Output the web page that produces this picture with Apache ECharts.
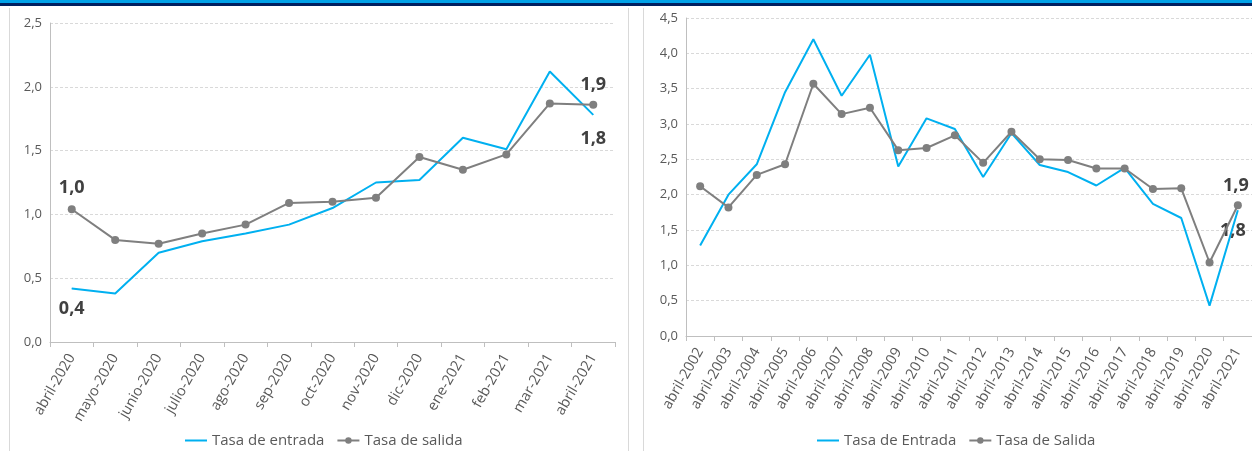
<!DOCTYPE html>
<html>
<head>
<meta charset="utf-8">
<script src="https://cdn.jsdelivr.net/npm/echarts@6/dist/echarts.min.js"></script>
<style>
  html, body { margin: 0; padding: 0; background: #fff; overflow: hidden; }
  #chart { width: 1252px; height: 451px; }
</style>
</head>
<body>
<div id="chart"></div>
<script>
// monthly panel (left)
const monthCats = ['abril-2020', 'mayo-2020', 'junio-2020', 'julio-2020', 'ago-2020', 'sep-2020', 'oct-2020',
  'nov-2020', 'dic-2020', 'ene-2021', 'feb-2021', 'mar-2021', 'abril-2021'];
const monthEntrada = [0.42, 0.38, 0.70, 0.79, 0.85, 0.92, 1.05, 1.25, 1.27, 1.60, 1.51, 2.12, 1.78];
const monthSalida = [1.04, 0.80, 0.77, 0.85, 0.92, 1.09, 1.10, 1.13, 1.45, 1.35, 1.47, 1.87, 1.86];

// yearly panel (right)
const yearCats = ['abril-2002', 'abril-2003', 'abril-2004', 'abril-2005', 'abril-2006', 'abril-2007', 'abril-2008',
  'abril-2009', 'abril-2010', 'abril-2011', 'abril-2012', 'abril-2013', 'abril-2014', 'abril-2015', 'abril-2016',
  'abril-2017', 'abril-2018', 'abril-2019', 'abril-2020', 'abril-2021'];
const yearEntrada = [1.28, 2.00, 2.43, 3.45, 4.20, 3.40, 3.98, 2.40, 3.08, 2.93, 2.25, 2.87, 2.42, 2.32, 2.13,
  2.38, 1.87, 1.67, 0.43, 1.78];
const yearSalida = [2.12, 1.82, 2.28, 2.43, 3.57, 3.14, 3.23, 2.63, 2.66, 2.84, 2.45, 2.89, 2.50, 2.49, 2.37,
  2.37, 2.08, 2.09, 1.04, 1.85];

const BLUE = '#00b0f0';
const GRAY = '#7f7f7f';
const FONT = 'Open Sans';

const fmt = v => v.toFixed(1).replace('.', ',');

const valueLabel = {
  fontFamily: FONT, fontSize: 18, fontWeight: 'bold', color: '#404040', distance: 9,
  formatter: p => fmt(p.value)
};

// only first/last points carry a label; blue line gets an invisible dot there
const labelAt = (arr, labels, pos, hiddenDot) => arr.map((v, i) => {
  if (!(i in labels)) return v;
  const item = { value: v, label: { show: true, position: pos, offset: labels[i] } };
  if (hiddenDot) { item.symbol = 'circle'; item.symbolSize = 0.5; }
  return item;
});

const catAxis = (idx, data) => ({
  type: 'category', gridIndex: idx, data,
  boundaryGap: true,
  axisLine: { lineStyle: { color: '#bfbfbf' } },
  axisTick: { show: true, length: 5, lineStyle: { color: '#bfbfbf' } },
  axisLabel: { rotate: 60, color: '#595959', fontFamily: FONT, fontSize: 14.5, margin: 13 }
});

const valAxis = (idx, max) => ({
  type: 'value', gridIndex: idx, min: 0, max, interval: 0.5,
  axisLine: { show: true, lineStyle: { color: '#bfbfbf' } },
  axisTick: { show: false },
  splitLine: { lineStyle: { color: '#d9d9d9', type: [3, 2] } },
  axisLabel: { color: '#595959', fontFamily: FONT, fontSize: 13, margin: 8, formatter: fmt }
});

const lineEntrada = (name, idx, data, labels) => ({
  name, type: 'line', xAxisIndex: idx, yAxisIndex: idx,
  data: labelAt(data, labels, 'bottom', true),
  symbol: 'none', showSymbol: true,
  lineStyle: { color: BLUE, width: 2 }, itemStyle: { color: BLUE },
  label: Object.assign({ show: false }, valueLabel),
  z: 2
});

const lineSalida = (name, idx, data, labels) => ({
  name, type: 'line', xAxisIndex: idx, yAxisIndex: idx,
  data: labelAt(data, labels, 'top', false),
  symbol: 'circle', symbolSize: 8,
  lineStyle: { color: GRAY, width: 2 }, itemStyle: { color: GRAY },
  label: Object.assign({ show: false }, valueLabel),
  z: 3
});

const legendText = { color: '#595959', fontFamily: FONT, fontSize: 15 };
const lineIcon = 'path://M0,0 H22 V2 H0 Z';

const chart = echarts.init(document.getElementById('chart'));

chart.setOption({
  animation: false,
  graphic: [
    { type: 'rect', shape: { x: 0, y: 0, width: 1252, height: 3 }, style: { fill: '#00a2e8' } },
    { type: 'rect', shape: { x: 0, y: 3, width: 1252, height: 3 }, style: { fill: '#002060' } },
    { type: 'line', shape: { x1: 9.5, y1: 8, x2: 9.5, y2: 451 }, style: { stroke: '#d9d9d9', lineWidth: 1 } },
    { type: 'line', shape: { x1: 628.5, y1: 8, x2: 628.5, y2: 451 }, style: { stroke: '#d9d9d9', lineWidth: 1 } },
    { type: 'line', shape: { x1: 643.5, y1: 8, x2: 643.5, y2: 451 }, style: { stroke: '#d9d9d9', lineWidth: 1 } }
  ],
  legend: [
    {
      data: [{ name: 'Tasa de entrada', icon: lineIcon }, 'Tasa de salida'],
      left: 180, top: 428, itemGap: 12, itemWidth: 22, itemHeight: 8,
      textStyle: legendText
    },
    {
      data: [{ name: 'Tasa de Entrada', icon: lineIcon }, 'Tasa de Salida'],
      left: 812, top: 428, itemGap: 12, itemWidth: 22, itemHeight: 8,
      textStyle: legendText
    }
  ],
  grid: [
    { left: 50, right: 1252 - 615, top: 23, bottom: 451 - 342 },
    { left: 686, right: -4, top: 18, bottom: 451 - 336 }
  ],
  xAxis: [catAxis(0, monthCats), catAxis(1, yearCats)],
  yAxis: [valAxis(0, 2.5), valAxis(1, 4.5)],
  series: [
    lineEntrada('Tasa de entrada', 0, monthEntrada, { 0: [0, 2], 12: [0, 6] }),
    lineSalida('Tasa de salida', 0, monthSalida, { 0: [0, 1], 12: [0, 2] }),
    lineEntrada('Tasa de Entrada', 1, yearEntrada, { 19: [-5, 2] }),
    lineSalida('Tasa de Salida', 1, yearSalida, { 19: [-2, 3] })
  ]
});
</script>
</body>
</html>
